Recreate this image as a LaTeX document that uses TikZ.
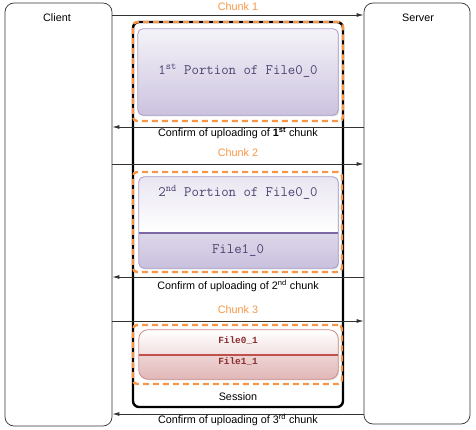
\documentclass[tikz,border=0pt]{standalone}
\usepackage{fontspec}
\setmainfont{Liberation Sans}
\newfontfamily\courb{Liberation Mono}
\usetikzlibrary{arrows.meta,fit,shadows}
\definecolor{orng}{HTML}{F79646}
\definecolor{lnc}{HTML}{333333}
\definecolor{purtxt}{HTML}{4E4270}
\definecolor{purbd}{HTML}{A99BC9}
\definecolor{purdiv}{HTML}{7B68A6}
\definecolor{pinkbd}{HTML}{D08C8C}
\definecolor{pinkdiv}{HTML}{C0504D}
\definecolor{redtxt}{HTML}{8A2C2C}
\tikzset{
  lane/.style={draw=lnc, line width=0.7pt, rounded corners=9pt, inner sep=0pt, fill=white},
  sessbox/.style={draw=black, line width=2.4pt, rounded corners=6pt, inner sep=0pt},
  chunkbox/.style={draw=orng, line width=2.4pt, dash pattern=on 6pt off 4pt, rounded corners=4pt, inner sep=0pt},
  msg/.style={draw=lnc, line width=0.8pt, -{Latex[length=7pt,width=4pt]}},
  lbl/.style={font=\fontsize{10.8}{12}\selectfont, inner sep=0pt},
  clbl/.style={lbl, text=orng},
  mono/.style={font=\ttfamily\fontsize{14.4}{16}\selectfont, text=purtxt, inner sep=0pt},
  smono/.style={font=\courb\bfseries\fontsize{9.4}{11}\selectfont, text=redtxt, inner sep=0pt},
  inner/.style={inner sep=0pt},
}
\begin{document}
\begin{tikzpicture}[x=1pt,y=-1pt]
\useasboundingbox (0,0) rectangle (476,430);
% lanes
\node[lane, fit={(5,3) (112,426)}] (client) {};
\node[lane, fit={(364,3) (470,424)}] (server) {};
\node[lbl] (clientlbl) at (57,18) {Client};
\node[lbl] (serverlbl) at (418,18) {Server};
% session
\node[sessbox, fit={(133,22) (343,407)}] (session) {};
% chunk 1 inner
\node[inner, fit={(138,29) (338,115)}] (p1) {};
\shade[top color=purbd!12, bottom color=purbd!60, draw=purbd, line width=0.8pt, rounded corners=5pt, drop shadow={opacity=0.25,shadow xshift=1pt,shadow yshift=-1.2pt}]
  (p1.north west) rectangle (p1.south east);
\node[mono] (t1) at (238,71) {1\textsuperscript{st} Portion of File0\_0};
% chunk 2 inner
\node[inner, fit={(139,177) (338,268)}] (p2) {};
\coordinate (d2) at (139,233);
\fill[purbd!40, rounded corners=5pt, drop shadow={opacity=0.25,shadow xshift=1pt,shadow yshift=-1.2pt}] (p2.north west) rectangle (p2.south east);
\begin{scope}
  \clip[rounded corners=5pt] (p2.north west) rectangle (p2.south east);
  \shade[top color=purbd!25, bottom color=white] (p2.north west) rectangle (p2.east |- d2);
  \shade[top color=purbd!40, bottom color=purbd!62] (d2) rectangle (p2.south east);
\end{scope}
\draw[purbd, line width=0.8pt, rounded corners=5pt] (p2.north west) rectangle (p2.south east);
\draw[purdiv, line width=1.2pt] (d2) -- (p2.east |- d2);
\node[mono] (t2) at (238,192) {2\textsuperscript{nd} Portion of File0\_0};
\node[mono] (t3) at (238,250) {File1\_0};
% chunk 3 inner
\node[inner, fit={(139,330) (338,379)}] (p3) {};
\coordinate (d3) at (139,355);
\fill[pinkbd!40, rounded corners=9pt, drop shadow={opacity=0.25,shadow xshift=1pt,shadow yshift=-1.2pt}] (p3.north west) rectangle (p3.south east);
\begin{scope}
  \clip[rounded corners=9pt] (p3.north west) rectangle (p3.south east);
  \shade[top color=white, bottom color=pinkbd!28] (p3.north west) rectangle (p3.east |- d3);
  \shade[top color=pinkbd!38, bottom color=pinkbd!62] (d3) rectangle (p3.south east);
\end{scope}
\draw[pinkbd, line width=0.8pt, rounded corners=9pt] (p3.north west) rectangle (p3.south east);
\draw[pinkdiv, line width=1.2pt] (d3) -- (p3.east |- d3);
\node[smono] (t4) at (238,341) {File0\_1};
\node[smono] (t5) at (238,362) {File1\_1};
% orange chunk boxes
\node[chunkbox, fit={(133,22) (343,121)}] (c1) {};
\node[chunkbox, fit={(133,172) (342,272)}] (c2) {};
\node[chunkbox, fit={(133,325) (342,384)}] (c3) {};
% messages
\coordinate (m1) at (0,15);
\coordinate (m2) at (0,127);
\coordinate (m3) at (0,164);
\coordinate (m4) at (0,277);
\coordinate (m5) at (0,321);
\coordinate (m6) at (0,414);
\draw[msg] (client.east |- m1) -- (server.west |- m1);
\draw[msg] (server.west |- m2) -- (client.east |- m2);
\draw[msg] (client.east |- m3) -- (server.west |- m3);
\draw[msg] (server.west |- m4) -- (client.east |- m4);
\draw[msg] (client.east |- m5) -- (server.west |- m5);
\draw[msg] (server.west |- m6) -- (client.east |- m6);
% labels
\node[clbl] (l1) at (238,7) {Chunk 1};
\node[lbl] (l2) at (238,133.5) {Confirm of uploading of \textbf{1\textsuperscript{st}} chunk};
\node[clbl] (l3) at (238,153) {Chunk 2};
\node[lbl] (l4) at (238,286) {Confirm of uploading of 2\textsuperscript{nd} chunk};
\node[clbl] (l5) at (238,310) {Chunk 3};
\node[lbl] (l6) at (238,397) {Session};
\node[lbl] (l7) at (238,420) {Confirm of uploading of 3\textsuperscript{rd} chunk};
\end{tikzpicture}
\end{document}
